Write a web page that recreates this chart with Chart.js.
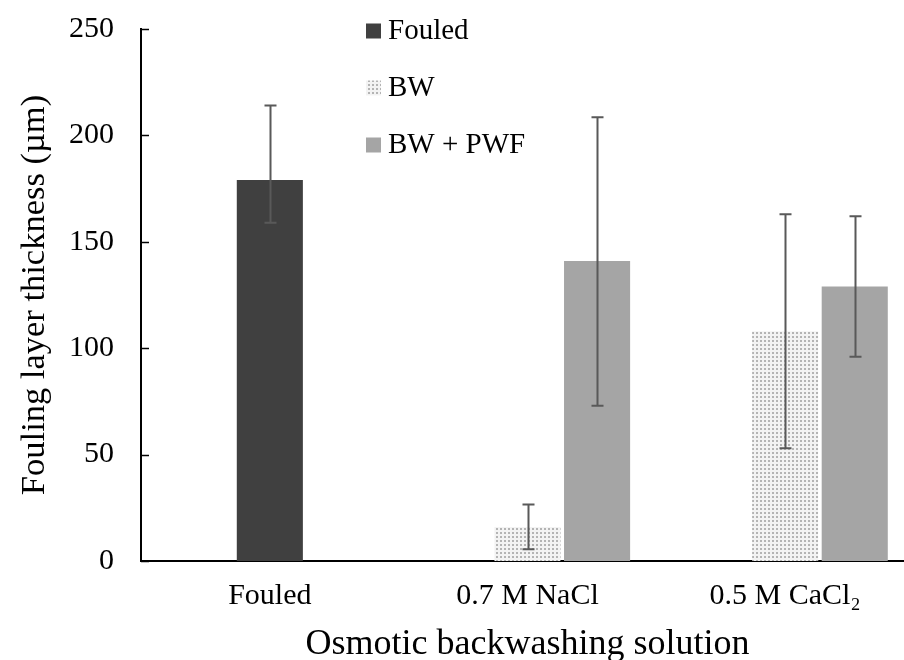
<!DOCTYPE html>
<html>
<head>
<meta charset="utf-8">
<script src="https://cdn.jsdelivr.net/npm/chart.js@4.4.1/dist/chart.umd.min.js"></script>
<style>
  html, body { margin: 0; padding: 0; background: #fff; overflow: hidden; }
  canvas { display: block; }
</style>
</head>
<body>
<canvas id="barChart" width="914" height="660"></canvas>
<script>
// data
var categories = ['Fouled', '0.7 M NaCl', '0.5 M CaCl\u2082'];
var fouled   = [179, null, null];
var bw       = [null, 16, 108];
var bwPwf    = [null, 141, 129];
// error bar ends
var fouledHi = [214, null, null];
var fouledLo = [159, null, null];
var bwHi     = [null, 26.5, 163];
var bwLo     = [null, 5.5, 53];
var bwPwfHi  = [null, 208.5, 162];
var bwPwfLo  = [null, 73, 96];
var yTicks   = [0, 50, 100, 150, 200, 250];

var FONT = "'Liberation Serif', 'Times New Roman', serif";

// stippled fill for the BW series
function dotPattern() {
    var c = document.createElement('canvas');
    c.width = 4; c.height = 4;
    var g = c.getContext('2d');
    g.fillStyle = '#f3f3f3';
    g.fillRect(0, 0, 4, 4);
    g.fillStyle = '#b4b4b4';
    g.fillRect(0, 0, 2, 2);
    return g.createPattern(c, 'repeat');
}
var bwFill = dotPattern();

// error bars + inward y ticks + legend inside plot
var extras = {
    id: 'extras',
    afterDatasetsDraw: function (chart) {
        var ctx = chart.ctx, y = chart.scales.y;
        ctx.save();
        ctx.strokeStyle = '#595959';
        ctx.lineWidth = 2;
        chart.data.datasets.forEach(function (ds, i) {
            if (!ds.errHi) return;
            var meta = chart.getDatasetMeta(i);
            meta.data.forEach(function (bar, j) {
                if (ds.data[j] == null) return;
                var x = Math.round(bar.x) + 0.5;
                var top = y.getPixelForValue(ds.errHi[j]);
                var bot = y.getPixelForValue(ds.errLo[j]);
                ctx.beginPath();
                ctx.moveTo(x, top); ctx.lineTo(x, bot);
                ctx.moveTo(x - 6, top); ctx.lineTo(x + 6, top);
                ctx.moveTo(x - 6, bot); ctx.lineTo(x + 6, bot);
                ctx.stroke();
            });
        });
        ctx.restore();
    },
    afterDraw: function (chart) {
        var ctx = chart.ctx, y = chart.scales.y, area = chart.chartArea;
        ctx.save();
        ctx.strokeStyle = '#000';
        ctx.lineWidth = 1.5;
        y.ticks.forEach(function (t, i) {
            var py = Math.round(y.getPixelForTick(i)) + 0.5;
            ctx.beginPath();
            ctx.moveTo(area.left, py);
            ctx.lineTo(area.left + 8, py);
            ctx.stroke();
        });
        // legend
        var lx = area.left + 225, ly = area.top + 2;
        var n = 0;
        ctx.font = '29px ' + FONT;
        ctx.textBaseline = 'middle';
        chart.data.datasets.forEach(function (ds) {
            if (!ds.label) return;
            var cy = ly + n * 57;
            ctx.fillStyle = ds.backgroundColor;
            ctx.fillRect(lx, cy - 7.5, 15, 15);
            ctx.fillStyle = '#000';
            ctx.fillText(ds.label, lx + 22, cy);
            n++;
        });
        ctx.restore();
    }
};

var ctxB = document.getElementById('barChart').getContext('2d');
var barChart = new Chart(ctxB, {
    type: 'bar',
    data: {
        labels: categories,
        datasets: [{
            label: '',
            data: [null, null, null],
            stack: 's0'
        }, {
            label: 'Fouled',
            data: fouled,
            errHi: fouledHi,
            errLo: fouledLo,
            backgroundColor: '#404040',
            stack: 's1'
        }, {
            label: 'BW',
            data: bw,
            errHi: bwHi,
            errLo: bwLo,
            backgroundColor: bwFill,
            stack: 's1'
        }, {
            label: 'BW + PWF',
            data: bwPwf,
            errHi: bwPwfHi,
            errLo: bwPwfLo,
            backgroundColor: '#a5a5a5',
            stack: 's2'
        }]
    },
    options: {
        responsive: false,
        animation: false,
        categoryPercentage: 0.81,
        barPercentage: 0.95,
        layout: { padding: { top: 29, left: 0, right: 0, bottom: 0 } },
        plugins: {
            legend: { display: false },
            tooltip: { enabled: false }
        },
        scales: {
            x: {
                grid: { display: false, drawTicks: false },
                border: { display: true, color: '#000', width: 2 },
                ticks: { color: '#000', padding: 17, font: { family: FONT, size: 30 } },
                title: {
                    display: true,
                    text: 'Osmotic backwashing solution',
                    color: '#000',
                    padding: { top: 0, bottom: 0 },
                    font: { family: FONT, size: 36, lineHeight: 0.85 }
                },
                afterFit: function (s) { s.height = 99; }
            },
            y: {
                min: 0,
                max: 250,
                afterBuildTicks: function (s) {
                    s.ticks = yTicks.map(function (v) { return { value: v }; });
                },
                grid: { display: false, drawTicks: false },
                border: { display: true, color: '#000', width: 2 },
                ticks: { color: '#000', padding: 27, font: { family: FONT, size: 30 } },
                title: {
                    display: true,
                    text: 'Fouling layer thickness (\u00b5m)',
                    color: '#000',
                    padding: { top: 18, bottom: 0 },
                    font: { family: FONT, size: 34.5, lineHeight: 1 }
                },
                afterFit: function (s) {
                    s.width = 141;
                    s.paddingTop = 0;
                    s.paddingBottom = 0;
                }
            }
        }
    },
    plugins: [extras]
});
</script>
</body>
</html>
